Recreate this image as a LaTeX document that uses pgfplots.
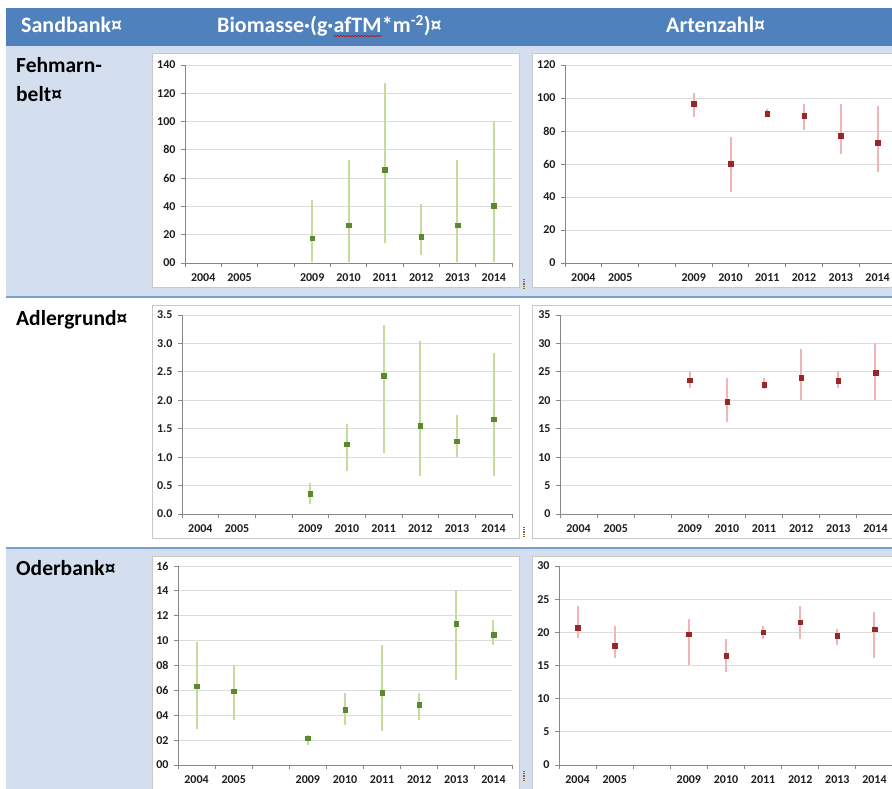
\documentclass[border=0pt]{standalone}
\usepackage{pgfplots}
\pgfplotsset{compat=1.18}
\usepackage{pgfplotstable}
\usepackage{fontspec}
\setmainfont{Carlito}
\usetikzlibrary{decorations.pathmorphing}

\definecolor{hdrblue}{HTML}{4F81BD}
\definecolor{rowblue}{HTML}{D3DFEE}
\definecolor{sepblue}{HTML}{7BA0CD}
\definecolor{framegray}{HTML}{C8C8C8}
\definecolor{axisgray}{HTML}{878787}
\definecolor{gridgray}{HTML}{DCDCDC}
\definecolor{bmgreen}{HTML}{5B8A2C}
\definecolor{bmerr}{HTML}{C6DC9C}
\definecolor{azred}{HTML}{982828}
\definecolor{azerr}{HTML}{F2B4B4}
\definecolor{cellmark}{HTML}{8A6A2A}
\definecolor{ticktext}{HTML}{1E1E1E}

% x positions: 0=2004, 1=2005, 2=(empty slot), 3=2009 ... 8=2014
% columns: mean, lower and upper end of the range
\pgfplotstableread{
x y lo hi
3 17.6 1.0 44.7
4 26.6 0.5 73.0
5 65.9 14.0 127.0
6 18.4 5.9 41.9
7 26.6 0.5 72.5
8 40.7 1.0 100.5
}\bmFehmarn
\pgfplotstableread{
x y lo hi
3 96.4 88.2 103.3
4 60.2 42.9 76.1
5 90.6 88.5 93.5
6 89.4 80.9 96.2
7 77.1 66.0 96.2
8 72.9 55.2 95.0
}\azFehmarn
\pgfplotstableread{
x y lo hi
3 0.36 0.18 0.55
4 1.23 0.76 1.58
5 2.43 1.08 3.32
6 1.55 0.67 3.05
7 1.28 1.00 1.74
8 1.67 0.66 2.84
}\bmAdler
\pgfplotstableread{
x y lo hi
3 23.5 22.1 25.1
4 19.7 16.1 24.0
5 22.7 22.0 24.0
6 24.0 20.1 29.1
7 23.4 22.1 25.1
8 24.8 20.1 30.1
}\azAdler
\pgfplotstableread{
x y lo hi
0 6.34 2.89 9.89
1 5.94 3.61 8.02
3 2.14 1.60 2.40
4 4.47 3.18 5.75
5 5.80 2.75 9.68
6 4.84 3.61 5.80
7 11.36 6.87 14.10
8 10.48 9.68 11.63
}\bmOder
\pgfplotstableread{
x y lo hi
0 20.7 19.1 23.9
1 18.0 16.1 21.0
3 19.7 15.1 22.0
4 16.5 14.0 19.0
5 20.0 19.0 21.0
6 21.5 19.0 24.0
7 19.5 18.1 20.5
8 20.5 16.1 23.0
}\azOder

\pgfplotsset{
  panel/.style={
    scale only axis,
    anchor=north west,
    xmin=-0.5, xmax=8.5,
    axis x line*=bottom, axis y line*=left,
    axis line style={axisgray, line width=0.8pt},
    xtick={0,1,3,4,5,6,7,8},
    xticklabels={2004,2005,2009,2010,2011,2012,2013,2014},
    minor xtick={-0.5,0.5,...,8.5},
    major tick length=0pt,
    minor tick length=4pt,
    tick align=outside,
    tick style={axisgray, line width=0.8pt},
    ymajorgrids,
    grid style={gridgray, line width=0.8pt},
    ticklabel style={font=\bfseries\fontsize{12}{14}\selectfont, text=ticktext},
    xticklabel style={yshift=-7.5pt},
    yticklabel style={xshift=-6pt},
    clip=false,
    /pgf/number format/assume math mode=true,
  },
  rangebars/.style={
    only marks, mark=none, forget plot,
    error bars/.cd, y dir=both, y explicit, error mark=none,
    error bar style={draw=#1, line width=2pt},
  },
  means/.style={only marks, mark=square*, mark size=2.3pt, color=#1},
}

\newcommand{\rangeplot}[3]{%
  \addplot[rangebars=#2] table[x=x, y=y,
    y error plus expr=\thisrow{hi}-\thisrow{y},
    y error minus expr=\thisrow{y}-\thisrow{lo}] {#1};
  \addplot[means=#3] table[x=x, y=y] {#1};
}

\begin{document}
\begin{tikzpicture}
\useasboundingbox (0,0) rectangle (892pt,-789pt);
\clip (0,0) rectangle (892pt,-789pt);

\begin{scope}[x=1pt, y=-1pt]
  \fill[white] (0,0) rectangle (892,789);
  % table header and row shading
  \fill[hdrblue] (6,8) rectangle (892,46);
  \fill[rowblue] (6,46) rectangle (892,296);
  \fill[rowblue] (6,548) rectangle (892,789);
  \draw[sepblue, line width=2pt] (6,296.5) -- (892,296.5);
  \draw[sepblue, line width=2pt] (6,547.5) -- (892,547.5);
  % chart areas
  \foreach \t/\b in {54/287, 305/538, 556/810} {
    \filldraw[fill=white, draw=framegray, line width=1pt] (152,\t) rectangle (519,\b);
    \filldraw[fill=white, draw=framegray, line width=1pt] (532,\t) rectangle (910,\b);
  }
  % cell end marks
  \foreach \t in {279, 527, 771} {
    \draw[cellmark, line width=1.3pt, dash pattern=on 1.2pt off 1pt] (524,\t) -- (524,\t+10);
  }
  % header text
  \begin{scope}[every node/.style={anchor=base west, inner sep=0pt, text=white,
      font=\bfseries\fontsize{22}{26}\selectfont}]
    \node at (21,33) {Sandbank¤};
    \node (b1) at (217,33) {Biomasse·(g·};
    \node (b2) at (b1.base east) {afTM};
    \node (b3) at (b2.base east) {*m\textsuperscript{-2})¤};
    \node at (666,33) {Artenzahl¤};
  \end{scope}
  \draw[red!85!black, line width=0.6pt, decorate,
        decoration={snake, amplitude=0.7pt, segment length=3pt}]
        ([yshift=-3pt]b2.base west) -- ([yshift=-3pt]b2.base east);
  % row labels
  \begin{scope}[every node/.style={anchor=base west, inner sep=0pt, text=black,
      font=\bfseries\fontsize{21.5}{26}\selectfont}]
    \node at (16,73) {Fehmarn-};
    \node at (16,102) {belt¤};
    \node at (16,325) {Adlergrund¤};
    \node at (16,575) {Oderbank¤};
  \end{scope}
\end{scope}

% Fehmarnbelt
\begin{axis}[panel, at={(185pt,-65pt)}, width=327pt, height=198pt,
  ymin=0, ymax=140, ytick={0,20,...,140}, minor ytick={0,20,...,140},
  yticklabels={00,20,40,60,80,100,120,140}]
  \rangeplot{\bmFehmarn}{bmerr}{bmgreen}
\end{axis}
\begin{axis}[panel, at={(565pt,-65pt)}, width=331pt, height=198pt,
  ymin=0, ymax=120, ytick={0,20,...,120}, minor ytick={0,20,...,120},
  yticklabels={0,20,40,60,80,100,120}]
  \rangeplot{\azFehmarn}{azerr}{azred}
\end{axis}

% Adlergrund
\begin{axis}[panel, at={(182pt,-315pt)}, width=330pt, height=199pt,
  ymin=0, ymax=3.5, ytick={0,0.5,...,3.5}, minor ytick={0,0.5,...,3.5},
  yticklabels={0.0,0.5,1.0,1.5,2.0,2.5,3.0,3.5}]
  \rangeplot{\bmAdler}{bmerr}{bmgreen}
\end{axis}
\begin{axis}[panel, at={(560pt,-315pt)}, width=334pt, height=199pt,
  ymin=0, ymax=35, ytick={0,5,...,35}, minor ytick={0,5,...,35},
  yticklabels={0,5,10,15,20,25,30,35}]
  \rangeplot{\azAdler}{azerr}{azred}
\end{axis}

% Oderbank
\begin{axis}[panel, at={(178pt,-566pt)}, width=334pt, height=199pt,
  ymin=0, ymax=16, ytick={0,2,...,16}, minor ytick={0,2,...,16},
  yticklabels={00,02,04,06,08,10,12,14,16}]
  \rangeplot{\bmOder}{bmerr}{bmgreen}
\end{axis}
\begin{axis}[panel, at={(559pt,-566pt)}, width=334pt, height=199pt,
  ymin=0, ymax=30, ytick={0,5,...,30}, minor ytick={0,5,...,30},
  yticklabels={0,5,10,15,20,25,30}]
  \rangeplot{\azOder}{azerr}{azred}
\end{axis}
\end{tikzpicture}
\end{document}
